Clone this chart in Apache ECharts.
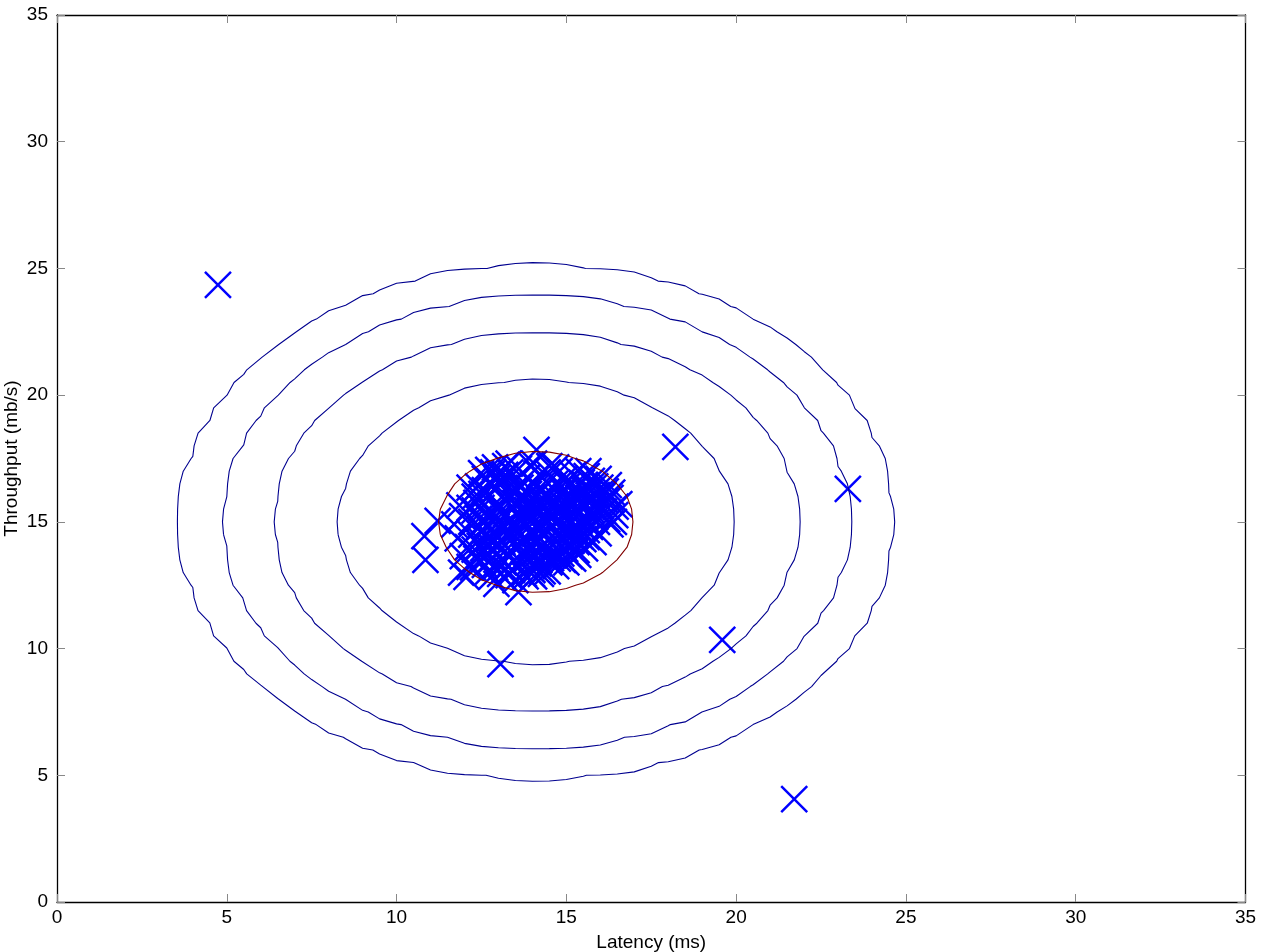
<!DOCTYPE html>
<html>
<head>
<meta charset="utf-8">
<script src="https://cdn.jsdelivr.net/npm/echarts@6/dist/echarts.min.js"></script>
<style>html,body{margin:0;padding:0;background:#fff}#c{width:1266px;height:952px}</style>
</head>
<body>
<div id="c"></div>
<script>
// Axis ticks
const xTicks = [0, 5, 10, 15, 20, 25, 30, 35];
const yTicks = [0, 5, 10, 15, 20, 25, 30, 35];
// Fitted Gaussian parameters (mean and variance per feature)
const mu = [14.112, 14.998];
const sigma2 = [1.8326, 1.7097];
// Contour levels shown (lowest to highest)
const levels = [1e-14, 1e-11, 1e-8, 1e-5, 1e-2];
const levelColors = ['#00008f', '#00008f', '#00008f', '#00008f', '#800000'];
// Evaluation grid used for the contours
const gridStep = 0.5;
// Observed points [latency, throughput]
const points = [
[13.05,14.74],[13.41,13.76],[14.20,15.85],[14.92,16.17],[13.58,14.04],[13.92,13.41],[12.82,14.22],[15.68,15.89],[16.16,16.20],[12.67,14.90],
[13.98,12.96],[14.06,14.55],[11.93,15.23],[14.33,15.67],[13.60,14.60],[14.74,14.98],[15.30,15.41],[13.22,15.32],[14.55,14.21],[13.77,15.91],
[14.88,15.55],[15.10,14.62],[13.44,16.22],[14.02,16.48],[15.56,16.45],[12.95,15.78],[14.61,13.68],[15.85,15.20],[13.30,13.25],[14.45,16.95],
[13.83,14.88],[14.28,14.02],[15.02,15.95],[12.55,13.95],[13.67,15.45],[14.96,13.92],[15.42,14.88],[16.02,15.62],[13.12,14.20],[14.18,13.36],
[12.42,15.12],[14.70,16.55],[15.75,16.62],[13.50,16.65],[14.85,14.40],[13.95,15.20],[14.40,15.10],[15.25,16.30],[12.75,13.45],[13.35,15.00],
[16.30,15.95],[15.60,14.40],[14.10,14.80],[13.75,13.60],[14.60,15.30],[15.15,15.05],[12.90,16.30],[13.90,16.10],[15.90,16.05],[14.35,13.80],
[12.20,14.50],[13.25,13.70],[14.80,17.00],[15.45,15.70],[16.10,15.40],[13.60,17.10],[12.60,16.70],[14.25,16.20],[15.35,13.70],[14.00,13.10],
[13.05,12.95],[12.35,13.55],[15.00,13.40],[15.70,14.80],[16.25,16.45],[14.50,17.20],[13.85,16.75],[12.85,16.95],[13.20,17.20],[15.20,16.85],
[14.15,14.25],[13.45,14.45],[14.65,15.75],[15.50,15.15],[13.00,15.50],[14.45,14.65],[13.70,15.10],[14.90,15.25],[15.80,15.60],[12.50,15.55],
[13.55,13.30],[14.30,13.05],[14.75,13.55],[15.30,14.20],[16.40,15.00],[12.10,14.00],[12.30,16.00],[13.10,16.60],[14.05,17.30],[15.65,17.00],
[15.95,14.55],[15.55,13.95],[15.10,13.65],[14.70,13.25],[14.25,12.95],[13.80,12.85],[13.30,12.90],[12.70,13.05],[12.25,13.20],[11.95,13.65],
[11.80,14.35],[11.70,14.90],[11.85,15.65],[12.15,16.35],[12.70,17.05],[13.30,17.30],[13.95,17.25],[14.70,17.15],[15.35,17.00],[15.95,16.70],
[16.35,16.15],[16.45,15.60],[16.30,14.90],[13.40,14.90],[13.80,14.30],[14.20,15.40],[14.60,14.85],[15.00,15.60],[13.90,15.70],[14.40,16.60],
[13.15,15.90],[12.85,14.60],[14.05,13.75],[15.35,15.95],[15.75,15.45],[12.65,15.25],[13.65,16.35],[14.95,16.70],[15.55,16.25],[14.85,14.05],
[13.50,15.75],[13.25,14.45],[13.95,14.05],[14.35,14.45],[14.75,15.45],[15.15,15.75],[15.45,16.55],[16.00,16.35],[12.45,14.30],[12.95,13.75],
[13.75,12.95],[14.50,13.40],[15.25,14.55],[15.90,15.00],[13.35,16.95],[14.20,16.85],[14.95,14.70],[13.85,15.45],[14.25,14.70],[14.55,15.95],
[13.15,13.40],[12.55,14.65],[13.65,14.25],[14.65,16.25],[15.05,16.45],[15.65,15.00],[14.10,15.60],[13.45,15.55],[14.85,13.75],[15.40,14.45],
[12.40,16.40],[13.05,16.45],[12.30,15.45],[16.15,15.85],[15.85,16.40],[13.50,12.70],[14.05,12.85],[14.45,13.05],[15.20,13.55],[12.80,12.85],
[13.10,13.52],[13.45,13.46],[13.85,13.55],[14.20,13.48],[14.55,13.57],[14.90,13.50],
[12.85,13.92],[13.20,13.86],[13.55,13.95],[13.90,13.88],[14.25,13.97],[14.60,13.85],[14.95,13.93],[15.30,13.88],
[12.70,14.33],[13.05,14.27],[13.40,14.35],[13.75,14.26],[14.10,14.34],[14.45,14.28],[14.80,14.36],[15.15,14.25],[15.50,14.32],
[12.80,14.68],[13.15,14.76],[13.50,14.65],[13.85,14.73],[14.20,14.66],[14.55,14.75],[14.90,14.64],[15.25,14.72],[15.60,14.67],
[12.95,15.12],[13.30,15.05],[13.65,15.14],[14.00,15.07],[14.35,15.16],[14.70,15.04],[15.05,15.13],[15.40,15.06],[15.75,15.15],
[13.10,15.47],[13.45,15.55],[13.80,15.46],[14.15,15.54],[14.50,15.45],[14.85,15.53],[15.20,15.48],[15.55,15.56],[15.90,15.44],
[13.30,15.93],[13.65,15.86],[14.00,15.95],[14.35,15.87],[14.70,15.94],[15.05,15.85],[15.40,15.92],[15.75,15.88],
[13.55,16.27],[13.90,16.34],[14.25,16.26],[14.60,16.33],[14.95,16.28],[15.30,16.35],
[12.30,13.90],[12.60,13.30],[12.90,13.20],[13.40,13.10],[12.45,14.80],[12.20,15.00],[12.50,16.10],[12.75,16.55],
[13.00,16.90],[15.60,16.80],[16.20,15.10],[15.80,14.20],[12.65,13.70],[13.20,13.15],[12.40,15.85],[12.15,15.55],
[12.60,16.25],[12.35,15.75],[12.55,15.00],[12.85,15.35],[13.20,16.85],[12.95,16.70],[12.45,14.05],[12.75,14.05],
[4.74,24.35],[18.21,17.96],[23.29,16.30],[19.59,10.34],[21.71,4.06],[13.06,9.39],[13.59,12.23],[12.94,12.55],[12.06,12.83],[12.15,13.22],
[10.82,14.44],[10.85,13.50],[11.21,15.04],[14.12,17.84],[16.44,15.27],[16.09,16.06],[16.56,15.70],[12.49,16.92],[12.90,17.15],[11.90,13.00]
];

function density(x, y) {
  const dx = x - mu[0], dy = y - mu[1];
  return Math.exp(-0.5 * (dx * dx / sigma2[0] + dy * dy / sigma2[1])) /
    (2 * Math.PI * Math.sqrt(sigma2[0] * sigma2[1]));
}

// Linear-interpolated contour crossings on the evaluation grid
function contour(level) {
  const n = Math.round(35 / gridStep);
  const g = [];
  for (let i = 0; i <= n; i++) g.push(i * gridStep);
  const V = g.map(x => g.map(y => density(x, y)));
  const pts = [];
  for (let i = 0; i <= n; i++) {
    for (let j = 0; j <= n; j++) {
      if (i < n) {
        const a = V[i][j], b = V[i + 1][j];
        if ((a - level) * (b - level) < 0) pts.push([g[i] + gridStep * (a - level) / (a - b), g[j]]);
      }
      if (j < n) {
        const a = V[i][j], b = V[i][j + 1];
        if ((a - level) * (b - level) < 0) pts.push([g[i], g[j] + gridStep * (a - level) / (a - b)]);
      }
    }
  }
  const ang = p => Math.atan2((p[1] - mu[1]) / Math.sqrt(sigma2[1]), (p[0] - mu[0]) / Math.sqrt(sigma2[0]));
  pts.sort((p, q) => ang(p) - ang(q));
  if (pts.length) pts.push(pts[0]);
  return pts;
}

const font = "'Liberation Sans', Arial, Helvetica, sans-serif";
const tickStyle = { show: true, inside: true, length: 8, lineStyle: { color: '#888', width: 1 } };
const lineStyle = { show: true, onZero: false, lineStyle: { color: '#000', width: 1.3 } };

const chart = echarts.init(document.getElementById('c'), null, { renderer: 'canvas' });
const series = [{
  type: 'scatter',
  data: points,
  symbol: 'path://M0,0L10,10M10,0L0,10',
  symbolSize: 26,
  itemStyle: { color: 'rgba(0,0,0,0)', borderColor: '#0000ff', borderWidth: 2.5, opacity: 1 },
  emphasis: { disabled: true },
  silent: true,
  z: 2
}];
levels.forEach((L, k) => {
  series.push({
    type: 'line',
    data: contour(L),
    showSymbol: false,
    symbol: 'none',
    smooth: false,
    lineStyle: { color: levelColors[k], width: 1.1 },
    emphasis: { disabled: true },
    silent: true,
    z: 3
  });
});

chart.setOption({
  animation: false,
  backgroundColor: '#fff',
  grid: { left: 57, right: 20.5, top: 15, bottom: 50, containLabel: false, outerBoundsMode: 'none' },
  xAxis: [{
    type: 'value', min: xTicks[0], max: xTicks[xTicks.length - 1], interval: xTicks[1] - xTicks[0],
    position: 'bottom',
    name: 'Latency (ms)', nameLocation: 'middle', nameGap: 31, nameMoveOverlap: false,
    nameTextStyle: { color: '#000', fontSize: 19, fontFamily: font },
    axisLine: lineStyle, axisTick: tickStyle, splitLine: { show: false },
    axisLabel: { color: '#000', fontSize: 19, fontFamily: font, margin: 6 }
  }, {
    type: 'value', min: xTicks[0], max: xTicks[xTicks.length - 1], interval: xTicks[1] - xTicks[0],
    position: 'top',
    axisLine: lineStyle, axisTick: tickStyle, splitLine: { show: false }, axisLabel: { show: false }
  }],
  yAxis: [{
    type: 'value', min: yTicks[0], max: yTicks[yTicks.length - 1], interval: yTicks[1] - yTicks[0],
    position: 'left',
    name: 'Throughput (mb/s)', nameLocation: 'middle', nameGap: 36, nameMoveOverlap: false,
    nameTextStyle: { color: '#000', fontSize: 19, fontFamily: font },
    axisLine: lineStyle, axisTick: tickStyle, splitLine: { show: false },
    axisLabel: { color: '#000', fontSize: 19, fontFamily: font, margin: 9 }
  }, {
    type: 'value', min: yTicks[0], max: yTicks[yTicks.length - 1], interval: yTicks[1] - yTicks[0],
    position: 'right',
    axisLine: lineStyle, axisTick: tickStyle, splitLine: { show: false }, axisLabel: { show: false }
  }],
  series: series
});
</script>
</body>
</html>
